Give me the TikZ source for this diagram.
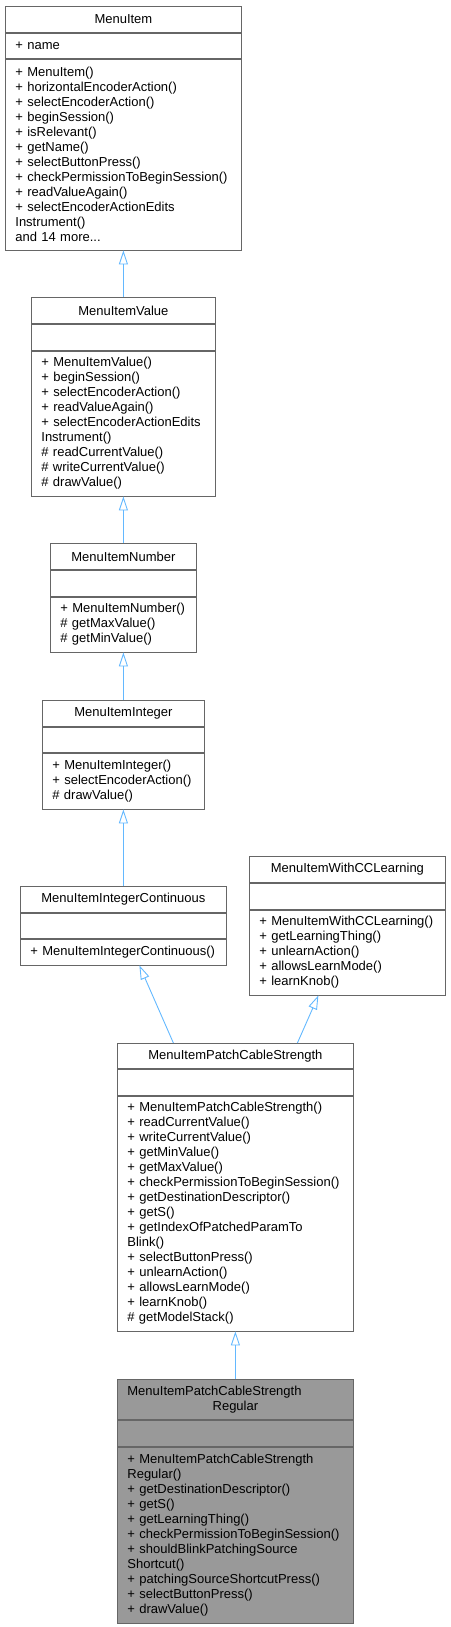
\documentclass[tikz,border=0pt]{standalone}
\usepackage{xcolor}
\usepackage{fontspec}
\setmainfont{Liberation Sans}
\usepackage{tikz}
\usetikzlibrary{arrows.meta}

\definecolor{edgeblue}{HTML}{63B8FF}
\definecolor{boxgray}{HTML}{666666}
\definecolor{leafgray}{HTML}{999999}

\begin{document}
\begin{tikzpicture}[x=1pt,y=-1pt,
							every node/.style={draw=boxgray,line width=0.8pt,anchor=north west,
								inner xsep=10pt,inner ysep=0pt,font=\fontsize{13}{15}\selectfont},
							head/.style={align=center},
							part/.style={align=left},
							leaf/.style={fill=leafgray},
							inherit/.style={draw=edgeblue,line width=0.9pt,
								-{Triangle[open,length=14pt,width=9pt]}}]
			\useasboundingbox (0,0) rectangle (450,1627);
			% MenuItem
			\node[head,text width=216pt,minimum height=26pt] (item) at (5,6) {MenuItem};
			\node[part,text width=216pt,minimum height=25pt] (item-attr) at (item.south west) {+ name};
			\node[part,text width=216pt,minimum height=191pt] (item-ops) at (item-attr.south west)
				{+ MenuItem()\\+ horizontalEncoderAction()\\+ selectEncoderAction()\\+ beginSession()\\
				+ isRelevant()\\+ getName()\\+ selectButtonPress()\\+ checkPermissionToBeginSession()\\
				+ readValueAgain()\\+ selectEncoderActionEdits\\Instrument()\\and 14 more...};
			% MenuItemValue
			\node[head,text width=164pt,minimum height=26pt] (value) at (31,297) {MenuItemValue};
			\node[part,text width=164pt,minimum height=26pt] (value-attr) at (value.south west) {};
			\node[part,text width=164pt,minimum height=145pt] (value-ops) at (value-attr.south west)
				{+ MenuItemValue()\\+ beginSession()\\+ selectEncoderAction()\\+ readValueAgain()\\
				+ selectEncoderActionEdits\\Instrument()\\\# readCurrentValue()\\\# writeCurrentValue()\\
				\# drawValue()};
			% MenuItemNumber
			\node[head,text width=126pt,minimum height=26pt] (number) at (50,543) {MenuItemNumber};
			\node[part,text width=126pt,minimum height=26pt] (number-attr) at (number.south west) {};
			\node[part,text width=126pt,minimum height=55pt] (number-ops) at (number-attr.south west)
				{+ MenuItemNumber()\\\# getMaxValue()\\\# getMinValue()};
			% MenuItemInteger
			\node[head,text width=142pt,minimum height=26pt] (integer) at (42,700) {MenuItemInteger};
			\node[part,text width=142pt,minimum height=25pt] (integer-attr) at (integer.south west) {};
			\node[part,text width=142pt,minimum height=56pt] (integer-ops) at (integer-attr.south west)
				{+ MenuItemInteger()\\+ selectEncoderAction()\\\# drawValue()};
			% MenuItemIntegerContinuous
			\node[head,text width=186pt,minimum height=26pt] (cont) at (20,886) {MenuItemIntegerContinuous};
			\node[part,text width=186pt,minimum height=25pt] (cont-attr) at (cont.south west) {};
			\node[part,text width=186pt,minimum height=26pt] (cont-ops) at (cont-attr.south west)
				{+ MenuItemIntegerContinuous()};
			% MenuItemWithCCLearning
			\node[head,text width=176pt,minimum height=26pt] (cclearn) at (249,856) {MenuItemWithCCLearning};
			\node[part,text width=176pt,minimum height=26pt] (cclearn-attr) at (cclearn.south west) {};
			\node[part,text width=176pt,minimum height=85pt] (cclearn-ops) at (cclearn-attr.south west)
				{+ MenuItemWithCCLearning()\\+ getLearningThing()\\+ unlearnAction()\\
				+ allowsLearnMode()\\+ learnKnob()};
			% MenuItemPatchCableStrength
			\node[head,text width=216pt,minimum height=25pt] (strength) at (117,1043) {MenuItemPatchCableStrength};
			\node[part,text width=216pt,minimum height=26pt] (strength-attr) at (strength.south west) {};
			\node[part,text width=216pt,minimum height=235pt] (strength-ops) at (strength-attr.south west)
				{+ MenuItemPatchCableStrength()\\+ readCurrentValue()\\+ writeCurrentValue()\\
				+ getMinValue()\\+ getMaxValue()\\+ checkPermissionToBeginSession()\\
				+ getDestinationDescriptor()\\+ getS()\\+ getIndexOfPatchedParamTo\\Blink()\\
				+ selectButtonPress()\\+ unlearnAction()\\+ allowsLearnMode()\\+ learnKnob()\\
				\# getModelStack()};
			% MenuItemPatchCableStrengthRegular
			\node[head,leaf,text width=216pt,minimum height=40pt] (regular) at (117,1379)
				{MenuItemPatchCableStrength\hfill\null\\Regular};
			\node[part,leaf,text width=216pt,minimum height=26pt] (regular-attr) at (regular.south west) {};
			\node[part,leaf,text width=216pt,minimum height=176pt] (regular-ops) at (regular-attr.south west)
				{+ MenuItemPatchCableStrength\\Regular()\\+ getDestinationDescriptor()\\+ getS()\\
				+ getLearningThing()\\+ checkPermissionToBeginSession()\\+ shouldBlinkPatchingSource\\
				Shortcut()\\+ patchingSourceShortcutPress()\\+ selectButtonPress()\\+ drawValue()};
			% inheritance
			\draw[inherit] (value.north) -- (item-ops.south);
			\draw[inherit] (number.north) -- (value-ops.south);
			\draw[inherit] (integer.north) -- (number-ops.south);
			\draw[inherit] (cont.north) -- (integer-ops.south);
			\draw[inherit] ([xshift=-62pt]strength.north) -- ([xshift=16pt]cont-ops.south);
			\draw[inherit] ([xshift=62pt]strength.north) -- ([xshift=-29pt]cclearn-ops.south);
			\draw[inherit] (regular.north) -- (strength-ops.south);
		\end{tikzpicture}
\end{document}
